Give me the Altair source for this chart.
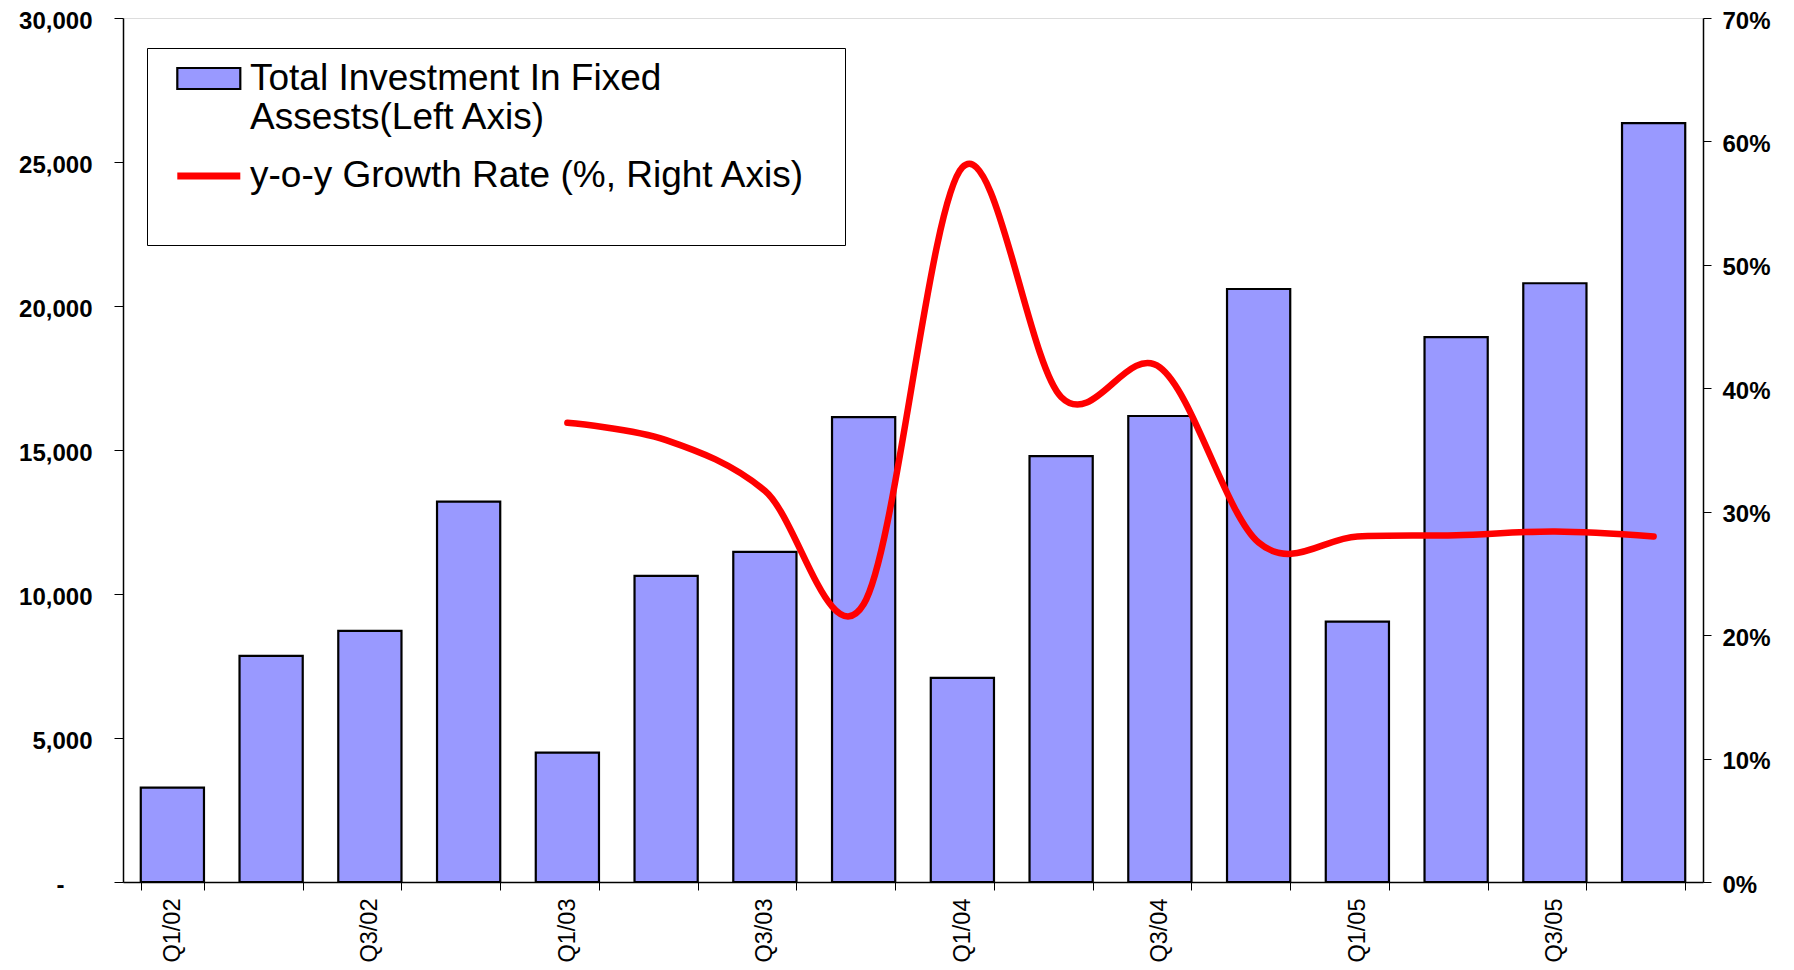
import altair as alt
import pandas as pd

quarters = ["Q1/02", "Q2/02", "Q3/02", "Q4/02",
            "Q1/03", "Q2/03", "Q3/03", "Q4/03",
            "Q1/04", "Q2/04", "Q3/04", "Q4/04",
            "Q1/05", "Q2/05", "Q3/05", "Q4/05"]
investment = [3280, 7850, 8720, 13210,
              4490, 10630, 11460, 16140,
              7090, 14790, 16180, 20590,
              9040, 18920, 20790, 26350]
growth_quarters = quarters[4:]
growth = [37.2, 35.8, 31.7, 22.5,
          57.9, 39.3, 41.7, 27.5,
          28.0, 28.1, 28.4, 28.0]

bar_label = "Total Investment In Fixed Assests(Left Axis)"
line_label = "y-o-y Growth Rate (%, Right Axis)"
series = [bar_label, line_label]

bars_df = pd.DataFrame({"quarter": quarters, "investment": investment})
line_df = pd.DataFrame({"quarter": growth_quarters, "growth": growth})
legend_df = pd.DataFrame({"series": series})

FONT = "Liberation Sans"
BLANK = "\u2800"

x_axis = alt.Axis(
    title=None,
    labelAngle=-90,
    labelExpr="indexof(datum.label, 'Q1') == 0 || indexof(datum.label, 'Q3') == 0 ? datum.label : ''",
    labelFont=FONT, labelFontSize=23.5, labelColor="black",
    labelPadding=8, tickBand="extent", tickSize=8,
    tickColor="black", domainColor="black", domainWidth=1.5,
    labelOverlap=False,
)
x_scale = alt.Scale(domain=quarters, paddingInner=0.36, paddingOuter=0.18)

bars = alt.Chart(bars_df).mark_bar(
    color="#9999FF", stroke="black", strokeWidth=2.2
).encode(
    x=alt.X("quarter:N", scale=x_scale, axis=x_axis),
    y=alt.Y(
        "investment:Q",
        scale=alt.Scale(domain=[0, 30000], nice=False),
        axis=alt.Axis(
            title=None, orient="left", values=[0, 5000, 10000, 15000, 20000, 25000, 30000],
            labelExpr="datum.value == 0 ? '-' : format(datum.value, ',')",
            labelFont=FONT, labelFontSize=24, labelFontWeight="bold", labelColor="black",
            labelPadding={"condition": {"test": "datum.value == 0", "value": 50}, "value": 22},
            labelOffset=3,
            tickSize=9, tickColor="black", domainColor="black",
            domainWidth=1.5, grid=False,
        ),
    ),
)

line = alt.Chart(line_df).mark_line(
    color="#FF0000", strokeWidth=6.5, interpolate="cardinal", strokeCap="round"
).encode(
    x=alt.X("quarter:N", scale=x_scale, axis=x_axis),
    y=alt.Y(
        "growth:Q",
        scale=alt.Scale(domain=[0, 70], nice=False),
        axis=alt.Axis(
            title=None, orient="right", values=[0, 10, 20, 30, 40, 50, 60, 70],
            labelExpr="datum.value + '%'",
            labelFont=FONT, labelFontSize=24, labelFontWeight="bold", labelColor="black",
            labelPadding=11, labelOffset=3, tickSize=8, tickColor="black", domainColor="black",
            domainWidth=1.5, grid=False,
        ),
    ),
)

rect_path = "M-0.02,-1.05H6.28V1.05H-0.02Z"
line_path = "M-0.02,0H6.28"
legend_layer = alt.Chart(legend_df).mark_point(
    filled=True, opacity=1, size=400
).encode(
    shape=alt.Shape(
        "series:N",
        scale=alt.Scale(domain=series, range=[rect_path, line_path]),
        legend=alt.Legend(
            title=None, orient="none", legendX=24, legendY=30,
            labelExpr="datum.label == '" + bar_label + "' ? ['Total Investment In Fixed', 'Assests(Left Axis)'] : ['" + line_label + BLANK + "', '" + BLANK + "']",
            labelFont=FONT, labelFontSize=37, labelColor="black", labelLimit=900,
            labelOffset=54, symbolSize=400, padding=12, rowPadding=20.5,
            fillColor="white", strokeColor="black",
        ),
    ),
    fill=alt.Fill("series:N", scale=alt.Scale(domain=series, range=["#9999FF", "#FF0000"]), legend=None),
    stroke=alt.Stroke("series:N", scale=alt.Scale(domain=series, range=["#000000", "#FF0000"]), legend=None),
    strokeWidth=alt.StrokeWidth("series:N", scale=alt.Scale(domain=series, range=[2.2, 7]), legend=None),
).transform_filter("false")

chart = alt.layer(bars, line, legend_layer).resolve_scale(
    y="independent"
).properties(
    width=1580, height=864,
    autosize=alt.AutoSizeParams(type="none"),
    padding={"left": 115, "top": 10, "right": 80, "bottom": 80},
).configure_view(
    stroke="black", strokeWidth=1.3
).configure(background="white")

chart.save("out.html", embed_options={"renderer": "svg", "actions": False})
